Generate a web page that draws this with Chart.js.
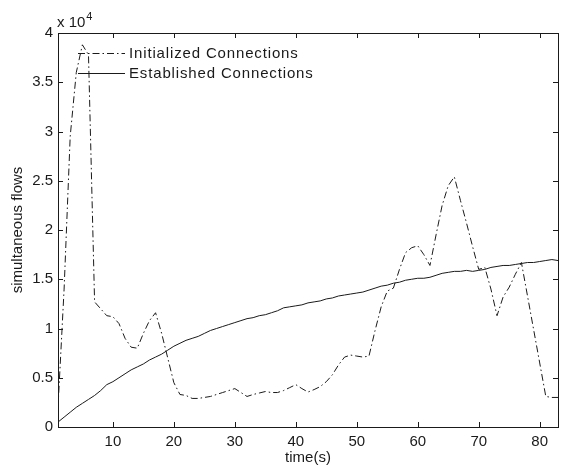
<!DOCTYPE html>
<html>
<head>
<meta charset="utf-8">
<script src="https://cdn.jsdelivr.net/npm/chart.js@4.4.1/dist/chart.umd.min.js"></script>
<style>
  html, body { margin: 0; padding: 0; background: #fff; }
  #flows { display: block; }
</style>
</head>
<body>
<canvas id="flows" width="562" height="467"></canvas>
<script>
// ===== DATA (values in units of 10^4 flows) =====
const seconds = [
  1, 2, 3, 4, 5, 6, 7, 8, 9, 10, 11, 12, 13, 14, 15, 16, 17, 18, 19, 20,
  21, 22, 23, 24, 25, 26, 27, 28, 29, 30, 31, 32, 33, 34, 35, 36, 37, 38, 39, 40,
  41, 42, 43, 44, 45, 46, 47, 48, 49, 50, 51, 52, 53, 54, 55, 56, 57, 58, 59, 60,
  61, 62, 63, 64, 65, 66, 67, 68, 69, 70, 71, 72, 73, 74, 75, 76, 77, 78, 79, 80,
  81, 82, 83
];

const initialized = [
  0.20, 1.40, 2.95, 3.60, 3.88, 3.78, 1.27, 1.20, 1.13, 1.12,
  1.05, 0.90, 0.81, 0.80, 0.95, 1.08, 1.16, 0.95, 0.70, 0.45,
  0.33, 0.32, 0.29, 0.29, 0.30, 0.31, 0.33, 0.35, 0.37, 0.39,
  0.35, 0.31, 0.33, 0.345, 0.36, 0.35, 0.35, 0.37, 0.40, 0.43,
  0.39, 0.355, 0.38, 0.41, 0.46, 0.53, 0.63, 0.71, 0.73, 0.72,
  0.71, 0.72, 0.98, 1.22, 1.38, 1.41, 1.60, 1.77, 1.82, 1.84,
  1.75, 1.64, 1.95, 2.25, 2.45, 2.54, 2.30, 2.07, 1.83, 1.60,
  1.62, 1.40, 1.13, 1.32, 1.42, 1.55, 1.67, 1.33, 0.99, 0.65,
  0.31, 0.30, 0.30
];

const established = [
  0.05, 0.10, 0.15, 0.20, 0.24, 0.28, 0.32, 0.37, 0.43, 0.46,
  0.50, 0.54, 0.58, 0.61, 0.64, 0.68, 0.71, 0.74, 0.78, 0.82,
  0.85, 0.88, 0.90, 0.92, 0.95, 0.98, 1.00, 1.02, 1.04, 1.06,
  1.08, 1.10, 1.11, 1.13, 1.14, 1.16, 1.18, 1.21, 1.22, 1.23,
  1.24, 1.26, 1.27, 1.28, 1.30, 1.31, 1.33, 1.34, 1.35, 1.36,
  1.37, 1.39, 1.41, 1.43, 1.44, 1.46, 1.47, 1.49, 1.50, 1.51,
  1.51, 1.52, 1.54, 1.56, 1.57, 1.58, 1.58, 1.59, 1.58, 1.59,
  1.60, 1.62, 1.63, 1.64, 1.64, 1.65, 1.66, 1.67, 1.67, 1.68,
  1.69, 1.70, 1.69
];

const seriesNames = ["Initialized Connections", "Established Connections"];
const xTickValues = [10, 20, 30, 40, 50, 60, 70, 80];
const yTickValues = [0, 0.5, 1, 1.5, 2, 2.5, 3, 3.5, 4];

/* =========================
   STYLE
========================= */
const INK = "#1a1a1a";
const FONT = "'Liberation Sans', Arial, Helvetica, sans-serif";
const DASH_DOT = [7, 3, 1.5, 3];

const toPoints = (ys) => seconds.map((t, i) => ({ x: t, y: ys[i] }));

/* =========================
   PLUGIN: matlab style box, inward ticks, legend, exponent
========================= */
const matlabFrame = {
  id: "matlabFrame",
  afterDraw(chart) {
    const { ctx, chartArea: a, scales } = chart;
    const len = 5;
    ctx.save();
    ctx.strokeStyle = INK;
    ctx.lineWidth = 1;
    ctx.setLineDash([]);

    // box
    ctx.strokeRect(a.left + 0.5, a.top + 0.5, a.right - a.left, a.bottom - a.top);

    // inward ticks on all four sides
    ctx.beginPath();
    xTickValues.forEach(v => {
      const px = Math.round(scales.x.getPixelForValue(v)) + 0.5;
      ctx.moveTo(px, a.bottom);
      ctx.lineTo(px, a.bottom - len);
      ctx.moveTo(px, a.top);
      ctx.lineTo(px, a.top + len);
    });
    yTickValues.forEach(v => {
      const py = Math.round(scales.y.getPixelForValue(v)) + 0.5;
      ctx.moveTo(a.left, py);
      ctx.lineTo(a.left + len, py);
      ctx.moveTo(a.right, py);
      ctx.lineTo(a.right - len, py);
    });
    ctx.stroke();

    // exponent label "x 10^4"
    ctx.fillStyle = INK;
    ctx.textBaseline = "alphabetic";
    ctx.textAlign = "left";
    ctx.font = "15px " + FONT;
    ctx.fillText("x 10", a.left - 1, a.top - 6);
    const w = ctx.measureText("x 10").width;
    ctx.font = "11px " + FONT;
    ctx.fillText("4", a.left - 1 + w + 1, a.top - 13);

    // legend (no box), inside top-left
    chart.data.datasets.forEach((ds, i) => {
      const y = a.top + 20.5 + i * 20;
      ctx.beginPath();
      ctx.setLineDash(ds.borderDash || []);
      ctx.strokeStyle = ds.borderColor;
      ctx.lineWidth = ds.borderWidth;
      ctx.moveTo(a.left + 20, y);
      ctx.lineTo(a.left + 67, y);
      ctx.stroke();
      ctx.setLineDash([]);
      ctx.font = "15px " + FONT;
      ctx.letterSpacing = "0.85px";
      ctx.textBaseline = "middle";
      ctx.fillText(ds.label, a.left + 71, y);
      ctx.letterSpacing = "0px";
    });
    ctx.restore();
  }
};

/* =========================
   CHART
========================= */
new Chart(document.getElementById("flows").getContext("2d"), {
  type: "line",
  data: {
    datasets: [
      {
        label: seriesNames[0],
        data: toPoints(initialized),
        borderColor: INK,
        borderWidth: 1,
        borderDash: DASH_DOT,
        pointRadius: 0,
        tension: 0,
        fill: false
      },
      {
        label: seriesNames[1],
        data: toPoints(established),
        borderColor: INK,
        borderWidth: 1,
        pointRadius: 0,
        tension: 0,
        fill: false
      }
    ]
  },
  options: {
    responsive: false,
    animation: false,
    events: [],
    layout: { padding: { left: 0, right: 4, top: 33, bottom: 0 } },
    plugins: {
      legend: { display: false },
      tooltip: { enabled: false }
    },
    scales: {
      x: {
        type: "linear",
        min: 1,
        max: 83,
        afterBuildTicks: s => { s.ticks = xTickValues.map(v => ({ value: v })); },
        afterFit: s => { s.height = 40; },
        grid: { display: false, drawTicks: false },
        border: { display: false },
        ticks: {
          color: INK,
          padding: 6,
          maxRotation: 0,
          font: { family: FONT, size: 15 }
        },
        title: {
          display: true,
          text: "time(s)",
          color: INK,
          font: { family: FONT, size: 15 },
          padding: { top: 0, bottom: 0 }
        }
      },
      y: {
        min: 0,
        max: 4,
        afterBuildTicks: s => { s.ticks = yTickValues.map(v => ({ value: v })); },
        afterFit: s => { s.width = 58; },
        grid: { display: false, drawTicks: false },
        border: { display: false },
        ticks: {
          color: INK,
          padding: 5,
          font: { family: FONT, size: 15 },
          callback: v => String(+v.toFixed(1))
        },
        title: {
          display: true,
          text: "simultaneous flows",
          color: INK,
          font: { family: FONT, size: 15 },
          padding: { top: 9, bottom: 0 }
        }
      }
    }
  },
  plugins: [matlabFrame]
});
</script>
</body>
</html>
